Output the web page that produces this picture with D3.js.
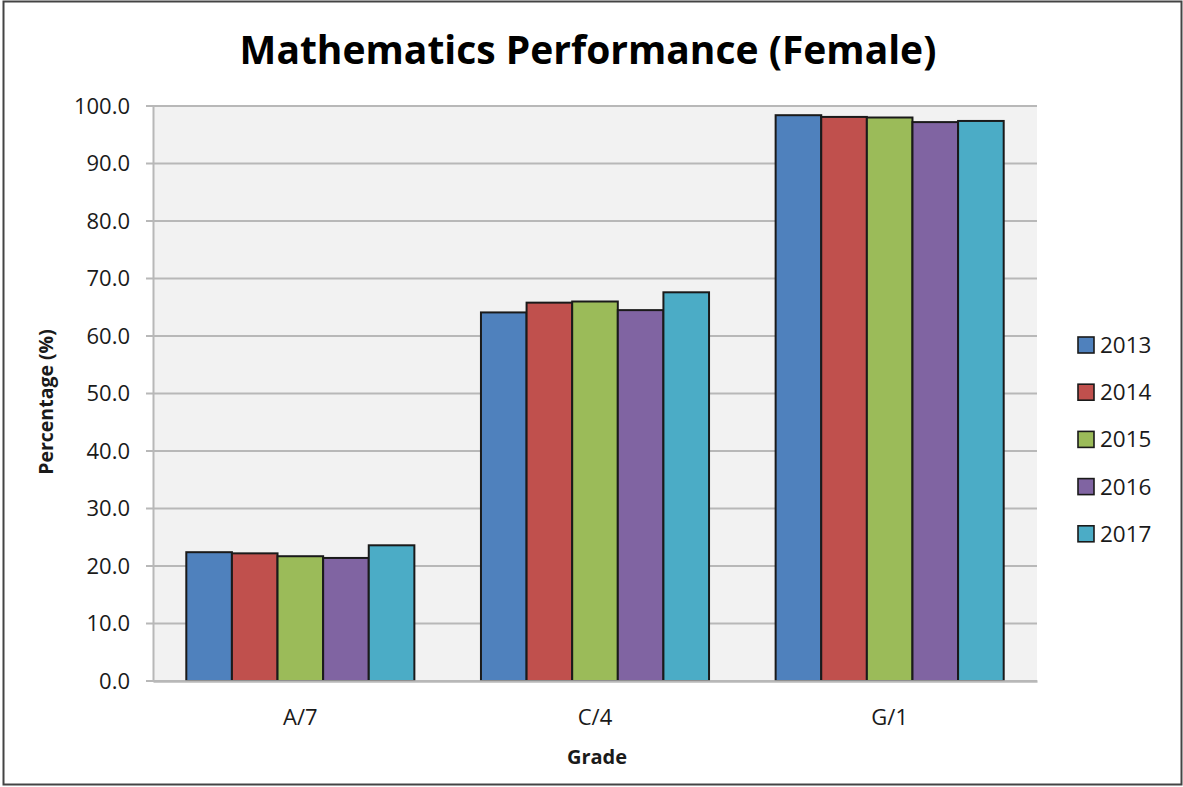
<!DOCTYPE html>
<html><head><meta charset="utf-8">
<script src="https://cdn.jsdelivr.net/npm/d3@7"></script>
<style>body{margin:0;background:#fff}svg{display:block}</style>
</head><body>
<svg id="c" width="1183" height="787"></svg>
<script>
const categories = ["A/7", "C/4", "G/1"];
const seriesNames = ["2013", "2014", "2015", "2016", "2017"];
const values2013 = [22.4, 64.1, 98.4];
const values2014 = [22.2, 65.8, 98.1];
const values2015 = [21.7, 66.0, 98.0];
const values2016 = [21.4, 64.5, 97.2];
const values2017 = [23.6, 67.6, 97.4];
const yTicks = [0, 10, 20, 30, 40, 50, 60, 70, 80, 90, 100];
const colors = ["#4f81bd", "#c0504d", "#9bbb59", "#8064a2", "#4bacc6"];

(function () {
const seriesValues = [values2013, values2014, values2015, values2016, values2017];
const svg = d3.select("#c");
const font = "Open Sans, sans-serif";

svg.append("rect").attr("x", 3.5).attr("y", 1.5).attr("width", 1178).attr("height", 783)
  .attr("fill", "#fff").attr("stroke", "#444").attr("stroke-width", 2);

const pL = 153, pR = 1037, pT = 106, pB = 681;
const x0 = d3.scaleBand().domain(categories).range([pL, pR]).paddingInner(0.226).paddingOuter(0.113);
const x1 = d3.scaleBand().domain(seriesNames).range([0, x0.bandwidth()]);
const y = d3.scaleLinear().domain([0, 100]).range([pB, pT]);

svg.append("rect").attr("x", pL).attr("y", pT).attr("width", pR - pL).attr("height", pB - pT).attr("fill", "#f2f2f2");

svg.append("g").selectAll("line").data(yTicks).join("line")
  .attr("x1", pL - 7).attr("x2", pR).attr("y1", d => y(d)).attr("y2", d => y(d))
  .attr("stroke", "#b8b8b8").attr("stroke-width", 2);

const yAxis = d3.axisLeft(y).tickValues(yTicks).tickFormat(d3.format(".1f")).tickSize(0).tickPadding(23);
const gy = svg.append("g").attr("transform", `translate(${pL},0)`).call(yAxis);
gy.select(".domain").attr("stroke", "#b8b8b8").attr("stroke-width", 2);
gy.selectAll("text").attr("font-family", font).attr("font-size", 22).attr("font-weight", 500).attr("fill", "#1a1a1a");

const groups = svg.append("g").selectAll("g").data(categories).join("g")
  .attr("transform", d => `translate(${x0(d)},0)`);
groups.selectAll("rect").data((d, i) => seriesNames.map((s, j) => ({s, j, v: seriesValues[j][i]}))).join("rect")
  .attr("x", d => x1(d.s)).attr("width", x1.bandwidth())
  .attr("y", d => y(d.v)).attr("height", d => y(0) - y(d.v))
  .attr("fill", d => colors[d.j]).attr("stroke", "#1a1a1a").attr("stroke-width", 2);

const xAxis = d3.axisBottom(x0).tickSize(0).tickPadding(33);
const gx = svg.append("g").attr("transform", `translate(0,${pB})`).call(xAxis);
gx.select(".domain").attr("stroke", "#b8b8b8").attr("stroke-width", 2.5);
gx.selectAll("text").attr("font-family", font).attr("font-size", 22).attr("font-weight", 500).attr("fill", "#1a1a1a").attr("dy", "0.5em");

svg.append("text").attr("x", 588).attr("y", 64).attr("text-anchor", "middle")
  .attr("font-family", font).attr("font-weight", "bold").attr("font-size", 39).attr("fill", "#000")
  .text("Mathematics Performance (Female)");

svg.append("text").attr("x", 597).attr("y", 764).attr("text-anchor", "middle")
  .attr("font-family", font).attr("font-weight", "bold").attr("font-size", 20).attr("fill", "#1a1a1a").text("Grade");
svg.append("text").attr("transform", "translate(53,402) rotate(-90)").attr("text-anchor", "middle")
  .attr("font-family", font).attr("font-weight", "bold").attr("font-size", 19.5).attr("fill", "#1a1a1a").text("Percentage (%)");

const leg = svg.append("g").selectAll("g").data(seriesNames).join("g")
  .attr("transform", (d, i) => `translate(1078,${345 + i * 47.2})`);
leg.append("rect").attr("x", 0).attr("y", -8).attr("width", 16).attr("height", 16)
  .attr("fill", (d, i) => colors[i]).attr("stroke", "#1a1a1a").attr("stroke-width", 1.6);
leg.append("text").attr("x", 22).attr("y", 8).attr("font-family", font).attr("font-size", 22.5).attr("font-weight", 500).attr("fill", "#1a1a1a").text(d => d);
})();
</script>
</body></html>
